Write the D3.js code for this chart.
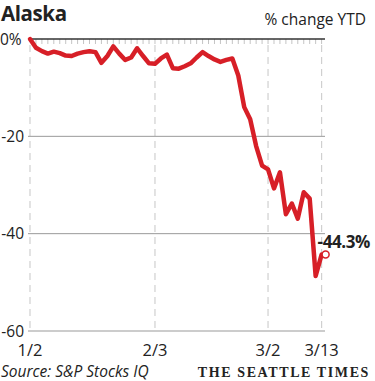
<!DOCTYPE html>
<html>
<head>
<meta charset="utf-8">
<script src="https://cdn.jsdelivr.net/npm/d3@7"></script>
<style>
  body { margin: 0; background: #fff; }
  svg { display: block; }
</style>
</head>
<body>
<div id="chart"></div>
<script>
// Alaska Air stock, % change since Jan 2 (one value per trading day)
const dates = [
  "1/2","1/3","1/6","1/7","1/8","1/9","1/10","1/13","1/14","1/15","1/16","1/17",
  "1/21","1/22","1/23","1/24","1/27","1/28","1/29","1/30","1/31",
  "2/3","2/4","2/5","2/6","2/7","2/10","2/11","2/12","2/13","2/14",
  "2/18","2/19","2/20","2/21","2/24","2/25","2/26","2/27","2/28",
  "3/2","3/3","3/4","3/5","3/6","3/9","3/10","3/11","3/12","3/13"
];
const pctChange = [
  0, -1.8, -2.5, -3.0, -2.6, -2.9, -3.4, -3.5, -3.0, -2.7, -2.5, -2.7,
  -4.9, -3.5, -1.5, -3.0, -4.3, -3.8, -1.9, -3.5, -5.0,
  -5.1, -4.0, -3.2, -6.0, -6.1, -5.6, -5.0, -3.8, -2.7, -3.5,
  -4.2, -4.7, -4.3, -4.0, -7.5, -14.0, -16.5, -22.0, -26.0,
  -26.8, -30.7, -27.4, -36.0, -33.8, -36.9, -31.5, -32.8, -48.7, -44.3
];
const xTickLabels = ["1/2", "2/3", "3/2", "3/13"];
const yTicks = [0, -20, -40, -60];

const width = 375, height = 381;
const svg = d3.select("#chart").append("svg")
  .attr("width", width)
  .attr("height", height);

const x = d3.scaleLinear().domain([0, dates.length - 1]).range([30, 321.6]);
const y = d3.scaleLinear().domain([0, -60]).range([39, 331]);

const font = "Open Sans, sans-serif";

// title + unit
svg.append("text")
  .attr("x", 1).attr("y", 21)
  .attr("font-family", font)
  .attr("font-weight", 700)
  .attr("font-size", "20.5px")
  .attr("fill", "#222")
  .attr("letter-spacing", "-0.4")
  .text("Alaska");

svg.append("text")
  .attr("x", 366).attr("y", 25)
  .attr("text-anchor", "end")
  .attr("font-family", font)
  .attr("font-size", "15.5px")
  .attr("fill", "#222")
  .text("% change YTD");

// vertical dashed gridlines
svg.append("g").selectAll("line")
  .data(xTickLabels)
  .join("line")
  .attr("x1", d => x(dates.indexOf(d)))
  .attr("x2", d => x(dates.indexOf(d)))
  .attr("y1", y(0) + 6)
  .attr("y2", y(-60))
  .attr("stroke", "#d0d0d0")
  .attr("stroke-width", 1.2)
  .attr("stroke-dasharray", "7,5");

// horizontal gridlines
svg.append("g").selectAll("line")
  .data(yTicks.filter(d => d !== 0))
  .join("line")
  .attr("x1", 28).attr("x2", 325)
  .attr("y1", d => y(d)).attr("y2", d => y(d))
  .attr("stroke", "#999")
  .attr("stroke-width", 1);

// minor day ticks under the zero line
svg.append("g").selectAll("line")
  .data(d3.range(1, dates.length))
  .join("line")
  .attr("x1", d => x(d)).attr("x2", d => x(d))
  .attr("y1", y(0)).attr("y2", y(0) + 5)
  .attr("stroke", "#c4c4c4")
  .attr("stroke-width", 1);

// zero line
svg.append("line")
  .attr("x1", 28).attr("x2", 325)
  .attr("y1", y(0)).attr("y2", y(0))
  .attr("stroke", "#333")
  .attr("stroke-width", 1.3);

// y labels
svg.append("g").selectAll("text")
  .data(yTicks)
  .join("text")
  .attr("x", d => d === 0 ? 0 : 24)
  .attr("y", d => y(d))
  .attr("dy", "0.36em")
  .attr("text-anchor", d => d === 0 ? "start" : "end")
  .attr("font-family", font)
  .attr("font-size", "15.5px")
  .attr("fill", "#222")
  .text(d => d === 0 ? "0%" : d);

// x labels
svg.append("g").selectAll("text")
  .data(xTickLabels)
  .join("text")
  .attr("x", d => x(dates.indexOf(d)))
  .attr("y", 356)
  .attr("text-anchor", "middle")
  .attr("font-family", font)
  .attr("font-size", "16.5px")
  .attr("fill", "#222")
  .text(d => d);

// the line
const line = d3.line()
  .x((d, i) => x(i))
  .y(d => y(d))
  .curve(d3.curveLinear);

svg.append("path")
  .datum(pctChange)
  .attr("d", line)
  .attr("fill", "none")
  .attr("stroke", "#d71f27")
  .attr("stroke-width", 4.5)
  .attr("stroke-linejoin", "round")
  .attr("stroke-linecap", "round");

// end marker + label
const last = pctChange.length - 1;
svg.append("circle")
  .attr("cx", x(last) + 4)
  .attr("cy", y(pctChange[last]))
  .attr("r", 3.5)
  .attr("fill", "#fff")
  .attr("stroke", "#d71f27")
  .attr("stroke-width", 1.5);

svg.append("text")
  .attr("x", x(last) - 4)
  .attr("y", y(pctChange[last]) - 7)
  .attr("font-family", font)
  .attr("font-weight", 700)
  .attr("font-size", "17px")
  .attr("fill", "#222")
  .attr("letter-spacing", "-0.4")
  .text(pctChange[last].toFixed(1) + "%");

// footer
svg.append("text")
  .attr("x", 1).attr("y", 377)
  .attr("font-family", font)
  .attr("font-style", "italic")
  .attr("font-size", "15.5px")
  .attr("fill", "#222")
  .text("Source: S&P Stocks IQ");

svg.append("text")
  .attr("x", 370).attr("y", 377)
  .attr("text-anchor", "end")
  .attr("font-family", "Liberation Serif, serif")
  .attr("font-weight", 700)
  .attr("font-size", "14px")
  .attr("letter-spacing", "1.6")
  .attr("fill", "#222")
  .text("THE SEATTLE TIMES");
</script>
</body>
</html>
